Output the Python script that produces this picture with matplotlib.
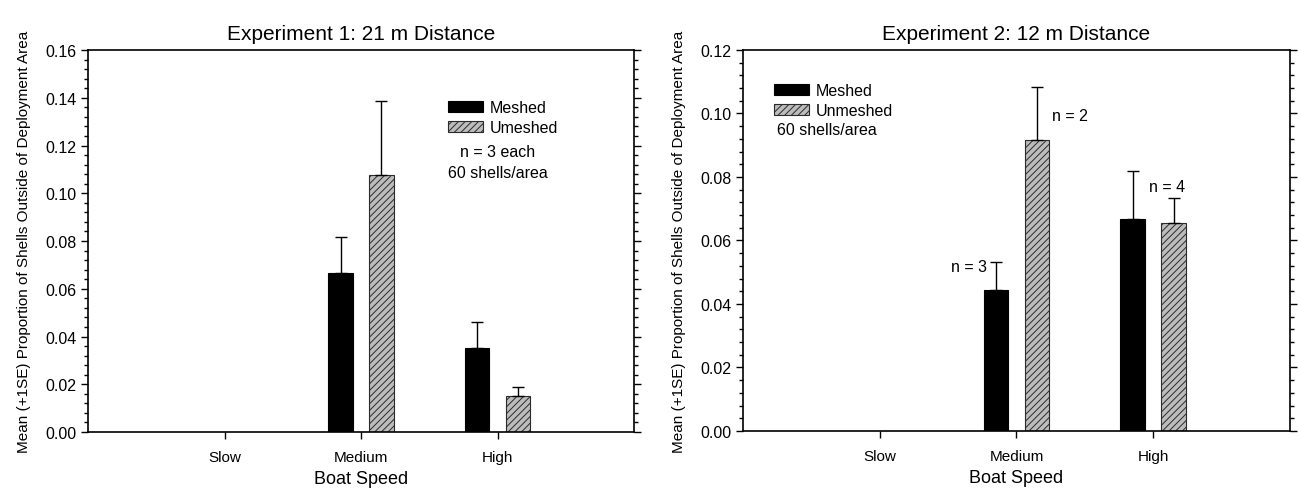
import numpy as np
import matplotlib
matplotlib.use("Agg")
import matplotlib.pyplot as plt
from matplotlib.ticker import MultipleLocator, FormatStrFormatter

plt.rcParams['font.family'] = ['Liberation Sans', 'DejaVu Sans']
plt.rcParams['hatch.linewidth'] = 0.7

# datos
velocidades = ['Slow', 'Medium', 'High']

exp1_meshed = [np.nan, 0.0667, 0.0350]
exp1_meshed_se = [np.nan, 0.0148, 0.0110]
exp1_unmeshed = [np.nan, 0.1075, 0.0150]
exp1_unmeshed_se = [np.nan, 0.0310, 0.0040]

exp2_meshed = [np.nan, 0.0445, 0.0668]
exp2_meshed_se = [np.nan, 0.0087, 0.0151]
exp2_unmeshed = [np.nan, 0.0917, 0.0654]
exp2_unmeshed_se = [np.nan, 0.0168, 0.0081]

x = np.arange(1, len(velocidades) + 1)
ancho = 0.18
desplaz = 0.15


def panel(ax, titulo, meshed, meshed_se, unmeshed, unmeshed_se, ymax, etiqueta2):
    ax.bar(x - desplaz, meshed, ancho, color='black', edgecolor='black',
           linewidth=0.8, label='Meshed')
    ax.bar(x + desplaz, unmeshed, ancho, color='#bcbcbc', edgecolor='#2a2a2a',
           hatch='/////', linewidth=0.8, label=etiqueta2)
    ceros = np.zeros(len(x))
    ax.errorbar(x - desplaz, meshed, yerr=[ceros, meshed_se], fmt='none',
                ecolor='black', elinewidth=1, capsize=4.5, capthick=1)
    ax.errorbar(x + desplaz, unmeshed, yerr=[ceros, unmeshed_se], fmt='none',
                ecolor='black', elinewidth=1, capsize=4.5, capthick=1)

    ax.set_xlim(0, 4)
    ax.set_ylim(0, ymax)
    ax.set_xticks(x)
    ax.set_xticklabels(velocidades, fontsize=11)
    ax.yaxis.set_major_locator(MultipleLocator(0.02))
    ax.yaxis.set_minor_locator(MultipleLocator(0.004))
    ax.yaxis.set_major_formatter(FormatStrFormatter('%.2f'))
    ax.tick_params(axis='y', which='both', direction='out', left=True, right=True,
                   labelsize=11.5, width=1)
    ax.tick_params(axis='y', which='major', length=5)
    ax.tick_params(axis='y', which='minor', length=3)
    ax.tick_params(axis='x', direction='out', length=5, width=1, pad=8)
    for s in ax.spines.values():
        s.set_linewidth(1.2)
    ax.set_title(titulo, fontsize=15, pad=8)
    ax.set_xlabel('Boat Speed', fontsize=13, labelpad=4)
    ax.set_ylabel('Mean (+1SE) Proportion of Shells Outside of Deployment Area',
                  fontsize=11, labelpad=10)


fig = plt.figure(figsize=(13, 4.89), dpi=100)
ax1 = fig.add_axes([0.0677, 0.1145, 0.42, 0.7812])
ax2 = fig.add_axes([0.5715, 0.1166, 0.4208, 0.7791])

panel(ax1, 'Experiment 1: 21 m Distance', exp1_meshed, exp1_meshed_se,
      exp1_unmeshed, exp1_unmeshed_se, 0.16, 'Umeshed')
ax1.legend(loc='upper left', bbox_to_anchor=(0.648, 0.885), frameon=False,
           fontsize=11.5, handlelength=2.2, handleheight=0.7,
           handletextpad=0.4, labelspacing=0.3, borderaxespad=0)
ax1.text(3.0, 0.1173, 'n = 3 each', ha='center', va='center', fontsize=11.5)
ax1.text(3.0, 0.1085, '60 shells/area', ha='center', va='center', fontsize=11.5)

panel(ax2, 'Experiment 2: 12 m Distance', exp2_meshed, exp2_meshed_se,
      exp2_unmeshed, exp2_unmeshed_se, 0.12, 'Unmeshed')
ax2.legend(loc='upper left', bbox_to_anchor=(0.045, 0.93), frameon=False,
           fontsize=11.5, handlelength=2.2, handleheight=0.7,
           handletextpad=0.4, labelspacing=0.3, borderaxespad=0)
ax2.text(0.25, 0.0951, '60 shells/area', ha='left', va='center', fontsize=11.5)
ax2.text(2.39, 0.0995, 'n = 2', ha='center', va='center', fontsize=11.5)
ax2.text(1.65, 0.0517, 'n = 3', ha='center', va='center', fontsize=11.5)
ax2.text(3.10, 0.0769, 'n = 4', ha='center', va='center', fontsize=11.5)

fig.savefig('out.png', dpi=100)
